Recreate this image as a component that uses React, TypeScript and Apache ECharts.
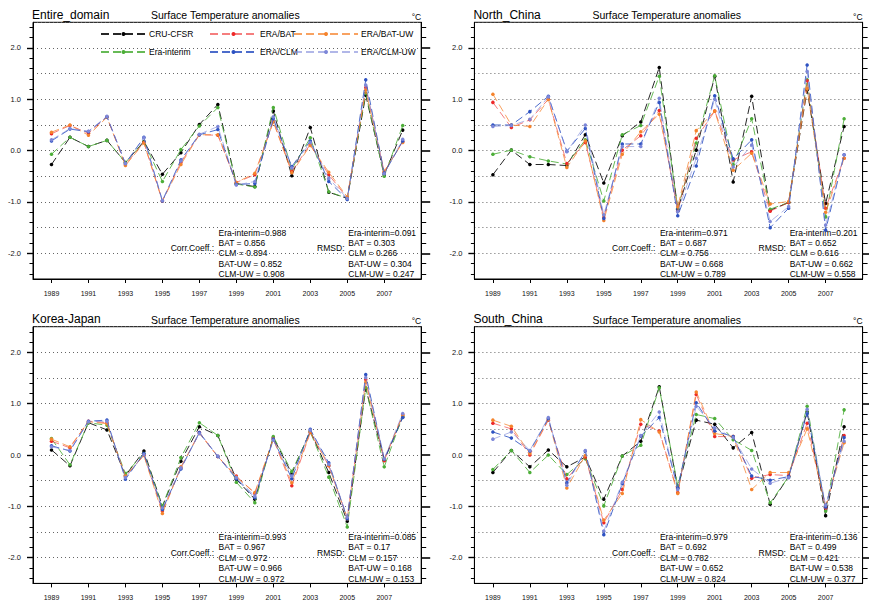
import React, { useEffect, useRef } from "react";
import * as echarts from "echarts";

// ---- data -------------------------------------------------------------
const years = [1989, 1990, 1991, 1992, 1993, 1994, 1995, 1996, 1997, 1998, 1999, 2000, 2001, 2002, 2003, 2004, 2005, 2006, 2007, 2008];
const yearTicks = [1989, 1991, 1993, 1995, 1997, 1999, 2001, 2003, 2005, 2007];
const valueTicks = [-2, -1, 0, 1, 2];
const minorValueTicks = [-2.4, -2.2, -1.8, -1.6, -1.4, -1.2, -0.8, -0.6, -0.4, -0.2, 0.2, 0.4, 0.6, 0.8, 1.2, 1.4, 1.6, 1.8, 2.2, 2.4];

const seriesNames = ["CRU-CFSR", "Era-interim", "ERA/BAT", "ERA/BAT-UW", "ERA/CLM", "ERA/CLM-UW"];
const statNames = ["Era-interim", "BAT", "CLM", "BAT-UW", "CLM-UW"];
const regionNames = ["Entire_domain", "North_China", "Korea-Japan", "South_China"];
const subTitle = "Surface Temperature anomalies";
const unitLabel = "\u00B0C";

// Entire_domain
const entireCru = [-0.27, 0.26, 0.08, 0.2, -0.23, 0.18, -0.46, -0.04, 0.51, 0.9, -0.64, -0.7, 0.77, -0.49, 0.45, -0.81, -0.93, 1.08, -0.47, 0.4];
const entireEra = [-0.07, 0.26, 0.08, 0.2, -0.23, 0.17, -0.6, 0.02, 0.48, 0.84, -0.65, -0.71, 0.84, -0.36, 0.25, -0.8, -0.93, 1.12, -0.5, 0.49];
const entireBat = [0.33, 0.49, 0.34, 0.66, -0.27, 0.16, -0.98, -0.23, 0.31, 0.3, -0.62, -0.47, 0.57, -0.4, 0.12, -0.47, -0.92, 1.23, -0.42, 0.18];
const entireBatUw = [0.36, 0.5, 0.3, 0.65, -0.29, 0.15, -0.98, -0.27, 0.31, 0.31, -0.62, -0.44, 0.56, -0.43, 0.1, -0.42, -0.9, 1.18, -0.4, 0.16];
const entireClm = [0.19, 0.42, 0.37, 0.66, -0.25, 0.26, -0.98, -0.18, 0.31, 0.41, -0.66, -0.64, 0.62, -0.31, 0.19, -0.6, -0.95, 1.38, -0.44, 0.19];
const entireClmUw = [0.21, 0.43, 0.38, 0.67, -0.25, 0.25, -0.97, -0.2, 0.32, 0.47, -0.67, -0.6, 0.66, -0.34, 0.16, -0.54, -0.93, 1.28, -0.45, 0.22];
const entireCorr = [0.988, 0.856, 0.894, 0.852, 0.908];
const entireRmsd = [0.091, 0.303, 0.266, 0.304, 0.247];

// North_China
const northCru = [-0.47, 0.01, -0.27, -0.27, -0.29, 0.31, -0.63, 0.29, 0.56, 1.62, -1.14, 0.01, 1.45, -0.61, 1.06, -1.16, -1.01, 1.18, -1.03, 0.47];
const northEra = [-0.07, 0.01, -0.12, -0.2, -0.26, 0.21, -0.98, 0.31, 0.49, 1.45, -1.12, 0.15, 1.46, -0.27, 0.62, -1.14, -1.01, 1.38, -1.29, 0.62];
const northBat = [0.94, 0.45, 0.6, 1.0, -0.25, 0.16, -1.3, 0.01, 0.29, 0.78, -1.18, 0.24, 0.77, -0.18, -0.02, -1.18, -1.01, 1.36, -1.12, -0.15];
const northBatUw = [1.1, 0.5, 0.47, 1.0, -0.33, 0.19, -1.36, -0.07, 0.37, 0.71, -1.09, 0.39, 0.77, -0.38, -0.05, -1.04, -0.99, 1.21, -1.2, -0.15];
const northClm = [0.5, 0.5, 0.76, 1.06, -0.01, 0.43, -1.32, 0.13, 0.13, 0.94, -1.27, -0.3, 1.07, -0.16, 0.21, -1.5, -1.12, 1.67, -1.55, -0.08];
const northClmUw = [0.47, 0.49, 0.61, 1.05, -0.02, 0.5, -1.25, 0.08, 0.08, 1.02, -1.19, -0.15, 1.0, -0.32, 0.11, -1.38, -1.09, 1.54, -1.45, -0.08];
const northCorr = [0.971, 0.687, 0.756, 0.668, 0.789];
const northRmsd = [0.201, 0.652, 0.616, 0.662, 0.558];

// Korea-Japan
const kjCru = [0.1, -0.21, 0.63, 0.49, -0.4, 0.08, -1.0, -0.12, 0.55, 0.38, -0.47, -0.86, 0.34, -0.36, 0.47, -0.34, -1.29, 1.3, -0.1, 0.74];
const kjEra = [0.32, -0.19, 0.63, 0.58, -0.36, 0.03, -0.99, -0.05, 0.63, 0.38, -0.53, -0.93, 0.36, -0.32, 0.45, -0.43, -1.4, 1.31, -0.23, 0.76];
const kjBat = [0.27, 0.14, 0.66, 0.63, -0.42, 0.0, -1.09, -0.25, 0.44, -0.03, -0.41, -0.75, 0.31, -0.6, 0.44, -0.21, -1.22, 1.47, -0.11, 0.79];
const kjBatUw = [0.31, 0.16, 0.65, 0.61, -0.41, -0.01, -1.14, -0.23, 0.42, -0.03, -0.43, -0.73, 0.32, -0.54, 0.45, -0.2, -1.24, 1.42, -0.08, 0.77];
const kjClm = [0.18, 0.08, 0.66, 0.68, -0.47, 0.03, -1.06, -0.27, 0.44, -0.03, -0.46, -0.83, 0.31, -0.46, 0.5, -0.15, -1.24, 1.57, -0.08, 0.73];
const kjClmUw = [0.16, 0.09, 0.65, 0.66, -0.44, 0.01, -1.03, -0.25, 0.42, -0.02, -0.44, -0.8, 0.29, -0.41, 0.49, -0.18, -1.21, 1.51, -0.07, 0.81];
const kjCorr = [0.993, 0.967, 0.972, 0.966, 0.972];
const kjRmsd = [0.085, 0.17, 0.157, 0.168, 0.153];

// South_China
const scCru = [-0.34, 0.09, -0.23, 0.1, -0.23, -0.04, -0.86, -0.02, 0.27, 1.33, -0.64, 0.68, 0.6, 0.14, 0.44, -0.96, -0.42, 0.84, -1.18, 0.55];
const scEra = [-0.28, 0.09, -0.34, 0.0, -0.38, -0.07, -0.99, -0.02, 0.19, 1.31, -0.6, 0.79, 0.71, 0.3, 0.09, -0.93, -0.42, 0.95, -1.09, 0.88];
const scBat = [0.62, 0.51, 0.0, 0.68, -0.46, -0.04, -1.32, -0.67, 0.6, 0.47, -0.73, 1.18, 0.36, 0.36, -0.45, -0.38, -0.4, 0.62, -1.03, 0.38];
const scBatUw = [0.68, 0.56, 0.03, 0.69, -0.64, -0.01, -1.27, -0.75, 0.69, 0.45, -0.75, 1.23, 0.42, 0.36, -0.67, -0.34, -0.34, 0.51, -0.99, 0.24];
const scClm = [0.45, 0.33, 0.08, 0.71, -0.54, 0.08, -1.55, -0.56, 0.37, 0.73, -0.64, 1.02, 0.47, 0.36, -0.41, -0.49, -0.42, 0.81, -1.01, 0.34];
const scClmUw = [0.31, 0.45, 0.09, 0.73, -0.59, 0.09, -1.48, -0.53, 0.38, 0.84, -0.67, 0.95, 0.53, 0.34, -0.27, -0.55, -0.44, 0.89, -0.98, 0.27];
const scCorr = [0.979, 0.692, 0.782, 0.652, 0.824];
const scRmsd = [0.136, 0.499, 0.421, 0.538, 0.377];

const panelValues = [
  [entireCru, entireEra, entireBat, entireBatUw, entireClm, entireClmUw],
  [northCru, northEra, northBat, northBatUw, northClm, northClmUw],
  [kjCru, kjEra, kjBat, kjBatUw, kjClm, kjClmUw],
  [scCru, scEra, scBat, scBatUw, scClm, scClmUw],
];
const panelCorr = [entireCorr, northCorr, kjCorr, scCorr];
const panelRmsd = [entireRmsd, northRmsd, kjRmsd, scRmsd];

// ---- layout & styles ---------------------------------------------------
const FONT = "'Liberation Sans', Arial, Helvetica, sans-serif";
const PLOT_W = 388.2;
const PLOT_H = 256.7;
const frames = [
  { x: 33, y: 22.3 },
  { x: 474.4, y: 22.3 },
  { x: 33, y: 326.7 },
  { x: 474.4, y: 326.7 },
];

const seriesStyles = [
  { dot: "#000000", line: "rgba(0,0,0,0.85)" },
  { dot: "#4cae38", line: "rgba(76,174,56,0.85)" },
  { dot: "#ee2828", line: "rgba(238,40,40,0.6)" },
  { dot: "#f5832c", line: "rgba(245,131,44,0.75)" },
  { dot: "#2d52c2", line: "rgba(45,82,194,0.85)" },
  { dot: "#7d87d8", line: "rgba(125,135,216,0.6)" },
];
const DASH = [8, 4];

const Y_PER_GRID = 5;

function buildOption() {
  const grid: any[] = [];
  const xAxis: any[] = [];
  const yAxis: any[] = [];
  const series: any[] = [];
  const graphic: any[] = [];

  const txt = (x: number, y: number, text: string, size: number, align = "left") => ({
    type: "text",
    x,
    y,
    silent: true,
    style: {
      text,
      fontSize: size,
      fontFamily: FONT,
      fill: "#000",
      align,
      textAlign: align,
      verticalAlign: "middle",
      textVerticalAlign: "middle",
    },
  });

  frames.forEach((f, i) => {
    grid.push({
      left: f.x,
      top: f.y,
      width: PLOT_W,
      height: PLOT_H,
      show: true,
      borderColor: "#000",
      borderWidth: 1,
      backgroundColor: "transparent",
    });

    xAxis.push({
      gridIndex: i,
      type: "value",
      min: 1988,
      max: 2009,
      interval: 1,
      axisLine: { show: true, onZero: false, lineStyle: { color: "#000", width: 1 } },
      axisTick: { show: true, inside: false, length: 4, customValues: yearTicks, lineStyle: { color: "#000", width: 1 } },
      axisLabel: {
        show: true,
        customValues: yearTicks,
        margin: 11,
        fontSize: 7,
        fontFamily: FONT,
        color: "#111",
        formatter: (v: number) => String(v),
      },
      splitLine: { show: false },
    });

    const base = { gridIndex: i, type: "value", min: -2.5, max: 2.5 };
    // dotted reference lines every 0.5
    yAxis.push({
      ...base,
      interval: 0.5,
      position: "left",
      axisLine: { show: false },
      axisTick: { show: false },
      axisLabel: { show: false },
      splitLine: { show: true, lineStyle: { type: [1, 3], color: "#666", width: 1 } },
    });
    // left labelled ticks
    yAxis.push({
      ...base,
      interval: 0.5,
      position: "left",
      axisLine: { show: true, onZero: false, lineStyle: { color: "#000", width: 1 } },
      axisTick: { show: true, inside: false, length: 6, customValues: valueTicks, lineStyle: { color: "#000", width: 1.4 } },
      axisLabel: {
        show: true,
        customValues: valueTicks,
        margin: 12,
        fontSize: 7.5,
        fontFamily: FONT,
        color: "#111",
        formatter: (v: number) => v.toFixed(1),
      },
      splitLine: { show: false },
    });
    // left minor ticks
    yAxis.push({
      ...base,
      interval: 0.5,
      position: "left",
      axisLine: { show: false },
      axisTick: { show: true, inside: false, length: 3.5, customValues: minorValueTicks, lineStyle: { color: "#000", width: 1 } },
      axisLabel: { show: false },
      splitLine: { show: false },
    });
    // right major ticks
    yAxis.push({
      ...base,
      interval: 0.5,
      position: "right",
      axisLine: { show: true, onZero: false, lineStyle: { color: "#000", width: 1 } },
      axisTick: { show: true, inside: false, length: 9, customValues: valueTicks, lineStyle: { color: "#000", width: 1.6 } },
      axisLabel: { show: false },
      splitLine: { show: false },
    });
    // right minor ticks
    yAxis.push({
      ...base,
      interval: 0.5,
      position: "right",
      axisLine: { show: false },
      axisTick: { show: true, inside: false, length: 5, customValues: minorValueTicks, lineStyle: { color: "#000", width: 1 } },
      axisLabel: { show: false },
      splitLine: { show: false },
    });

    panelValues[i].forEach((vals, j) => {
      series.push({
        type: "line",
        name: seriesNames[j],
        xAxisIndex: i,
        yAxisIndex: i * Y_PER_GRID + 1,
        data: years.map((yr, k) => [yr, vals[k]]),
        symbol: "circle",
        symbolSize: 3.5,
        showSymbol: true,
        itemStyle: { color: seriesStyles[j].dot },
        lineStyle: { color: seriesStyles[j].line, width: 1, type: DASH },
        z: 3 + j,
        silent: true,
      });
    });

    // titles
    graphic.push(txt(f.x - 1, f.y - 7.5, regionNames[i], 12));
    graphic.push(txt(f.x + 118, f.y - 7, subTitle, 10.5));
    graphic.push(txt(f.x + PLOT_W, f.y - 5.5, unitLabel, 8.5, "right"));

    // statistics block
    const rowY0 = f.y + 210.4;
    const rowStep = 10.35;
    graphic.push(txt(f.x + 181, f.y + 226, "Corr.Coeff.:", 8.5, "right"));
    graphic.push(txt(f.x + 311.5, f.y + 226, "RMSD:", 8.5, "right"));
    statNames.forEach((nm, k) => {
      const sep = k === 0 ? "=" : " = ";
      graphic.push(txt(f.x + 185.5, rowY0 + k * rowStep, nm + sep + panelCorr[i][k], 8.5));
      graphic.push(txt(f.x + 315.3, rowY0 + k * rowStep, nm + sep + panelRmsd[i][k], 8.5));
    });
  });

  const legendBase = {
    orient: "vertical",
    itemHeight: 5,
    itemGap: 9,
    selectedMode: false,
    textStyle: { fontSize: 8.5, fontFamily: FONT, color: "#000", padding: [0, 0, 0, -2] },
    padding: 0,
  };

  const legend = [
    { ...legendBase, data: ["CRU-CFSR", "Era-interim"], left: 100, top: 29.5, itemWidth: 45 },
    { ...legendBase, data: ["ERA/BAT", "ERA/CLM"], left: 209, top: 29.5, itemWidth: 47 },
    { ...legendBase, data: ["ERA/BAT-UW", "ERA/CLM-UW"], left: 293, top: 29.5, itemWidth: 64 },
  ];

  return {
    animation: false,
    backgroundColor: "#ffffff",
    grid,
    xAxis,
    yAxis,
    series,
    legend,
    graphic,
  };
}

export default function App() {
  const ref = useRef<HTMLDivElement | null>(null);

  useEffect(() => {
    if (!ref.current) return;
    const chart = echarts.init(ref.current, undefined, { renderer: "svg" });
    chart.setOption(buildOption() as any);
    return () => chart.dispose();
  }, []);

  return (
    <div
      ref={ref}
      style={{ position: "absolute", left: 0, top: 0, width: 869, height: 604, background: "#fff" }}
    />
  );
}
